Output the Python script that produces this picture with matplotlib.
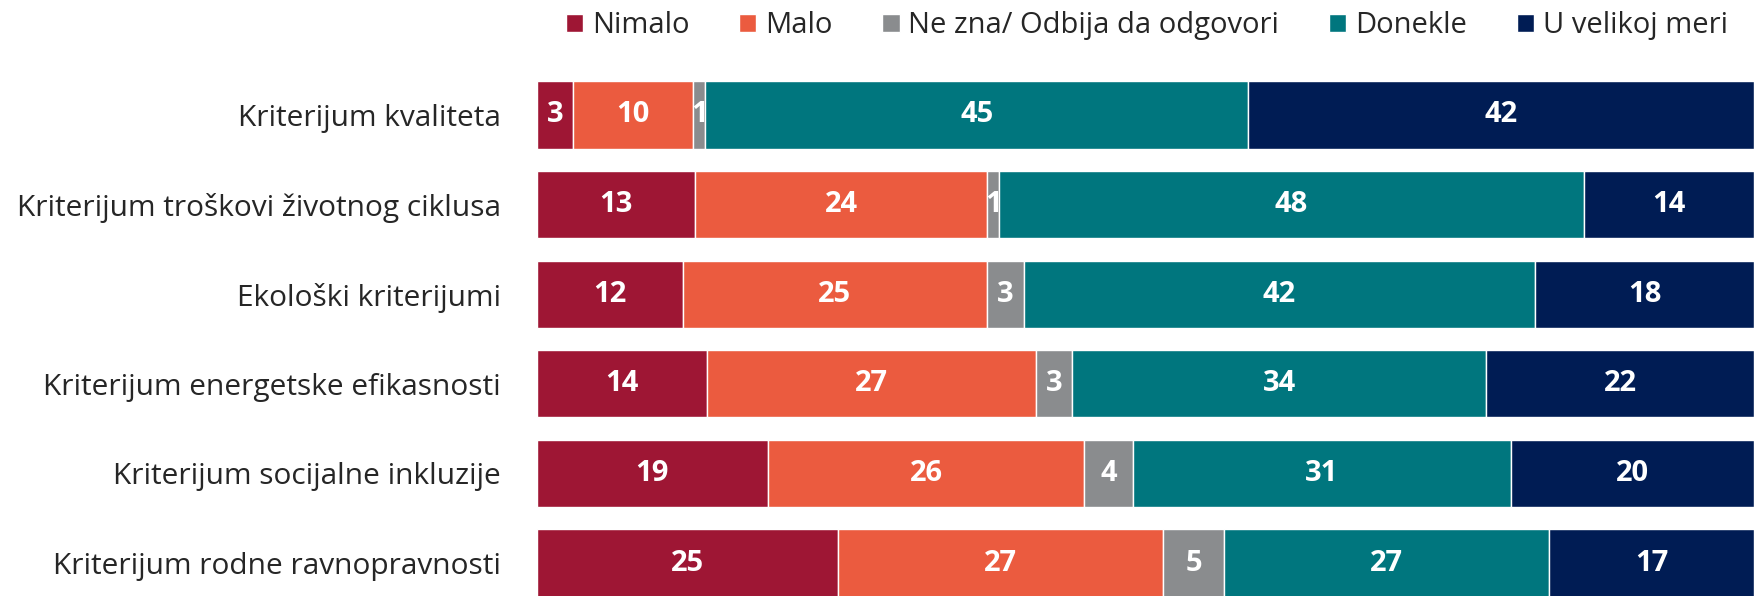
import matplotlib.pyplot as plt
import numpy as np

plt.rcParams['font.family'] = ['Open Sans', 'DejaVu Sans']

categories = [
    'Kriterijum kvaliteta',
    'Kriterijum troškovi životnog ciklusa',
    'Ekološki kriterijumi',
    'Kriterijum energetske efikasnosti',
    'Kriterijum socijalne inkluzije',
    'Kriterijum rodne ravnopravnosti',
]
series_names = ['Nimalo', 'Malo', 'Ne zna/ Odbija da odgovori', 'Donekle', 'U velikoj meri']
nimalo = [3, 13, 12, 14, 19, 25]
malo = [10, 24, 25, 27, 26, 27]
ne_zna = [1, 1, 3, 3, 4, 5]
donekle = [45, 48, 42, 34, 31, 27]
u_velikoj = [42, 14, 18, 22, 20, 17]
colors = ['#9E1634', '#EB5B3F', '#8A8C8E', '#00767E', '#001C54']

data = np.array([nimalo, malo, ne_zna, donekle, u_velikoj], dtype=float)
shares = data / data.sum(axis=0) * 100  # bars fill the full width

fig = plt.figure(figsize=(17.54, 5.96), dpi=100)
ax = fig.add_axes([0.306, 0.0, 0.694, 1.0])

y = np.arange(len(categories))
left = np.zeros(len(categories))
handles = []
for vals, share, name, c in zip(data, shares, series_names, colors):
    bars = ax.barh(y, share, left=left, height=0.75, color=c,
                   edgecolor='white', linewidth=1.0, label=name)
    handles.append(bars)
    for yi, l, w, v in zip(y, left, share, vals):
        ax.text(l + w / 2, yi, f'{int(v)}', ha='center', va='center',
                color='white', fontsize=21, fontweight='bold')
    left += share

ax.set_xlim(0, 100)
ax.set_ylim(5.368, -1.283)
ax.set_yticks(y)
ax.set_yticklabels(categories, fontsize=21.5, color='#262626')
ax.tick_params(axis='y', length=0, pad=26)
ax.set_xticks([])
for s in ax.spines.values():
    s.set_visible(False)

fig.legend(handles=handles, labels=series_names, loc='upper right',
           bbox_to_anchor=(1.0, 1.025), ncol=5, frameon=False, fontsize=21,
           handlelength=0.6, handleheight=0.6, handletextpad=0.3,
           columnspacing=1.7, labelcolor='#262626')

fig.savefig('out.png', dpi=100)
